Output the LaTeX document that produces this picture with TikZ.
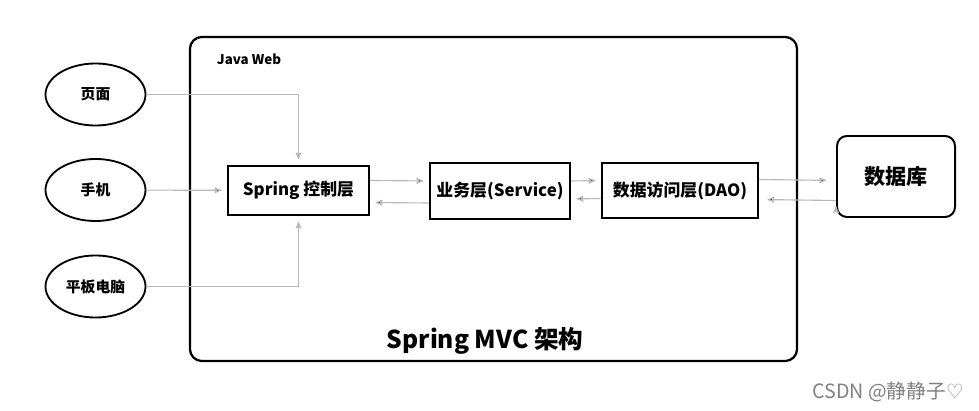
\documentclass[tikz,border=0pt]{standalone}
\usepackage{fontspec}
\setmainfont{Noto Sans CJK SC}
\newfontfamily\symfont{DejaVu Sans}
\usetikzlibrary{arrows,positioning,shapes.geometric}

\begin{document}
\begin{tikzpicture}[x=0.025cm, y=-0.025cm, ->, >=stealth']
    \useasboundingbox (0,0) rectangle (979,411);
    \tikzset{
        client/.style={draw, ellipse, line width=1.3pt, minimum width=2.5cm, minimum height=1.55cm, inner sep=0pt, font=\fontsize{10.5}{12}\selectfont\bfseries},
        layer/.style={draw, rectangle, line width=1.4pt, inner sep=0pt, font=\fontsize{12}{14}\selectfont\bfseries},
        flow/.style={draw=black!28, line width=0.8pt, shorten >=4pt}
    }

    % Java Web frame
    \node [draw, -, line width=1.6pt, rounded corners=0.3cm, minimum width=15.175cm, minimum height=8.1cm] (web) at (493.5,199) {};
    \node [font=\fontsize{9.5}{11}\selectfont\bfseries, anchor=west] (webl) at (212,59) {Java Web};
    \node [font=\fontsize{17.5}{20}\selectfont\bfseries] (mvc) at (485,341) {Spring MVC 架构};

    % clients
    \node [client] (c1) at (95.5,94.5) {页面};
    \node [client] (c2) at (95.5,190) {手机};
    \node [client] (c3) at (95.5,286.5) {平板电脑};

    % layers
    \node [layer, minimum width=3.525cm, minimum height=1.225cm] (l1) at (298.5,190.5) {Spring 控制层};
    \node [layer, minimum width=3.5cm, minimum height=1.4cm] (l2) at (500,191) {业务层(Service)};
    \node [layer, minimum width=3.9cm, minimum height=1.375cm] (l3) at (680,190.5) {数据访问层(DAO)};
    \node [draw, line width=1.4pt, rounded corners=0.25cm, minimum width=2.95cm, minimum height=2.025cm, font=\fontsize{15}{17}\selectfont\bfseries] (db) at (896,176.5) {数据库};

    \draw [flow] (c1.east) -| (l1.north);
    \draw [flow] (c3.east) -| (l1.south);

    \path [flow]
        (c2) edge (l1)
        ([yshift=0.25cm]l1.east) edge ([yshift=0.25cm]l2.west)
        ([yshift=-0.3cm]l2.west) edge ([yshift=-0.3cm]l1.east)
        ([yshift=0.25cm]l2.east) edge ([yshift=0.25cm]l3.west)
        ([yshift=-0.2cm]l3.west) edge ([yshift=-0.2cm]l2.east)
        ([yshift=0.275cm]l3.east) edge [shorten >=7pt] ([yshift=-0.1cm]db.west)
        ([yshift=-0.6cm]db.west) edge [shorten >=6pt] ([yshift=-0.225cm]l3.east);

    % watermark
    \node [text=black!50, font=\fontsize{14}{15}\selectfont] (mark) at (888,392) {CSDN @静静子{\symfont ♡}};
\end{tikzpicture}
\end{document}
